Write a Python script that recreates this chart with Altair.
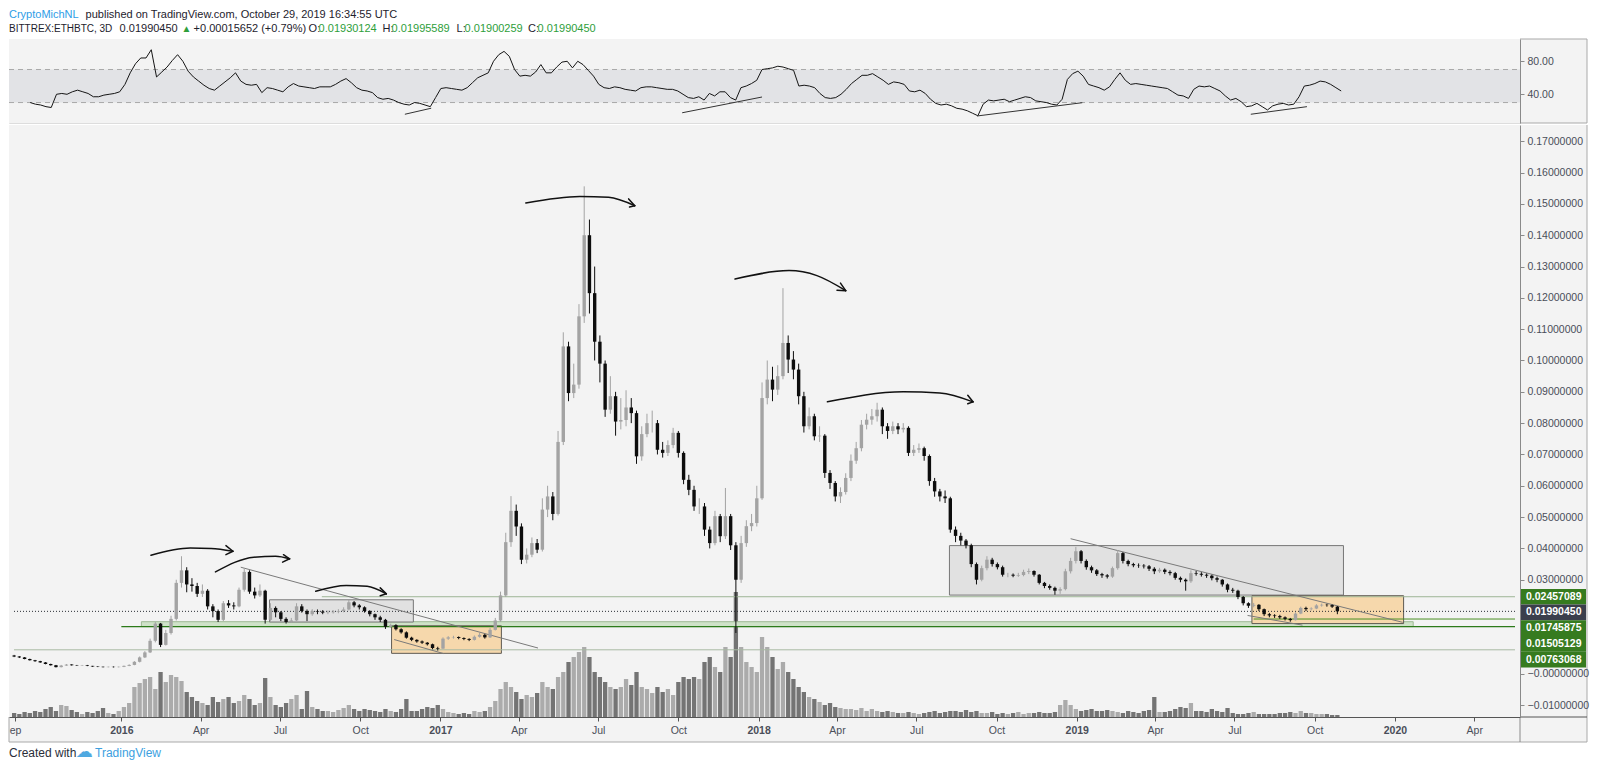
import altair as alt
import pandas as pd

# ======================= DATA =======================
BAR_START = "2015-08-31"      # first (6-day) candle
BAR_DAYS = 6
FIRST_OPEN = 0.0058

close = [
    0.0055, 0.0052, 0.0047, 0.0043, 0.0040, 0.0036, 0.0031, 0.0027, 0.0021, 0.0026,
    0.0029, 0.0027, 0.0026, 0.0027, 0.0025, 0.0023, 0.0022, 0.0021, 0.0022, 0.0021,
    0.0022, 0.0025, 0.0028, 0.0038, 0.0052, 0.0068, 0.0105, 0.0160, 0.0092, 0.0130,
    0.0175, 0.0290, 0.0330, 0.0285, 0.0280, 0.0255, 0.0265, 0.0215, 0.0200, 0.0172,
    0.0225, 0.0218, 0.0215, 0.0268, 0.0325, 0.0262, 0.0250, 0.0265, 0.0172, 0.0210,
    0.0196, 0.0175, 0.0165, 0.0170, 0.0215, 0.0200, 0.0190, 0.0200, 0.0198, 0.0195,
    0.0196, 0.0198, 0.0200, 0.0205, 0.0228, 0.0218, 0.0212, 0.0200, 0.0190, 0.0180,
    0.0172, 0.0150, 0.0155, 0.0142, 0.0132, 0.0115, 0.0108, 0.0103, 0.0099, 0.0094,
    0.0082, 0.0080, 0.0112, 0.0116, 0.0117, 0.0114, 0.0111, 0.0108, 0.0118, 0.0124,
    0.0116, 0.0140, 0.0170, 0.0250, 0.0420, 0.0520, 0.0470, 0.0364, 0.0380, 0.0417,
    0.0396, 0.0524, 0.0566, 0.0510, 0.0740, 0.1045, 0.0896, 0.0923, 0.1141, 0.1400,
    0.1215, 0.1060, 0.0990, 0.0843, 0.0886, 0.0805, 0.0810, 0.0850, 0.0832, 0.0694,
    0.0765, 0.0800, 0.0800, 0.0715, 0.0705, 0.0730, 0.0769, 0.0705, 0.0619, 0.0587,
    0.0534, 0.0534, 0.0460, 0.0417, 0.0503, 0.0439, 0.0503, 0.0410, 0.0300, 0.0417,
    0.0471, 0.0481, 0.0560, 0.0880, 0.0939, 0.0907, 0.0950, 0.1056, 0.1003, 0.0971,
    0.0886, 0.0790, 0.0822, 0.0758, 0.0760, 0.0641, 0.0609, 0.0566, 0.0580, 0.0625,
    0.0680, 0.0720, 0.0795, 0.0811, 0.0822, 0.0843, 0.0790, 0.0775, 0.0790, 0.0780,
    0.0785, 0.0705, 0.0715, 0.0720, 0.0695, 0.0615, 0.0582, 0.0566, 0.0560, 0.0460,
    0.0440, 0.0425, 0.0410, 0.0350, 0.0300, 0.0337, 0.0364, 0.0350, 0.0340, 0.0316,
    0.0316, 0.0313, 0.0315, 0.0325, 0.0328, 0.0316, 0.0290, 0.0280, 0.0274, 0.0265,
    0.0270, 0.0327, 0.0360, 0.0391, 0.0360, 0.0340, 0.0330, 0.0318, 0.0314, 0.0310,
    0.0337, 0.0385, 0.0360, 0.0350, 0.0346, 0.0345, 0.0343, 0.0335, 0.0327, 0.0332,
    0.0325, 0.0321, 0.0306, 0.0300, 0.0295, 0.0321, 0.0319, 0.0316, 0.0313, 0.0305,
    0.0300, 0.0285, 0.0268, 0.0265, 0.0245, 0.0225, 0.0217, 0.0220, 0.0206, 0.0190,
    0.0186, 0.0184, 0.0180, 0.0175, 0.0171, 0.0192, 0.0210, 0.0206, 0.0208, 0.0218,
    0.0220, 0.0219, 0.0214, 0.0199045,
]

high = [
    0.0060, 0.0056, 0.0053, 0.0048, 0.0044, 0.0041, 0.0037, 0.0032, 0.0028, 0.0028,
    0.0031, 0.0030, 0.0028, 0.0028, 0.0028, 0.0025, 0.0024, 0.0023, 0.0023, 0.0023,
    0.0023, 0.0026, 0.0030, 0.0040, 0.0055, 0.0072, 0.0112, 0.0165, 0.0162, 0.0140,
    0.0185, 0.0300, 0.0375, 0.0340, 0.0305, 0.0290, 0.0285, 0.0270, 0.0222, 0.0205,
    0.0232, 0.0235, 0.0228, 0.0275, 0.0337, 0.0330, 0.0275, 0.0285, 0.0268, 0.0225,
    0.0215, 0.0200, 0.0180, 0.0178, 0.0225, 0.0222, 0.0205, 0.0206, 0.0205, 0.0203,
    0.0202, 0.0203, 0.0206, 0.0212, 0.0236, 0.0232, 0.0222, 0.0215, 0.0203, 0.0192,
    0.0185, 0.0175, 0.0160, 0.0158, 0.0145, 0.0135, 0.0118, 0.0110, 0.0106, 0.0101,
    0.0096, 0.0086, 0.0116, 0.0120, 0.0121, 0.0119, 0.0116, 0.0113, 0.0122, 0.0130,
    0.0127, 0.0146, 0.0178, 0.0262, 0.0450, 0.0567, 0.0540, 0.0480, 0.0400, 0.0435,
    0.0430, 0.0560, 0.0600, 0.0580, 0.0775, 0.1090, 0.1060, 0.0990, 0.1180, 0.1556,
    0.1450, 0.1300, 0.1080, 0.1000, 0.0950, 0.0900, 0.0880, 0.0905, 0.0880, 0.0840,
    0.0790, 0.0830, 0.0840, 0.0810, 0.0740, 0.0745, 0.0785, 0.0775, 0.0710, 0.0635,
    0.0600, 0.0560, 0.0545, 0.0470, 0.0520, 0.0510, 0.0593, 0.0510, 0.0420, 0.0440,
    0.0490, 0.0510, 0.0600, 0.0930, 0.1000, 0.0980, 0.0985, 0.1231, 0.1080, 0.1030,
    0.0990, 0.0900, 0.0850, 0.0830, 0.0790, 0.0765, 0.0650, 0.0615, 0.0595, 0.0640,
    0.0700, 0.0740, 0.0810, 0.0830, 0.0845, 0.0865, 0.0850, 0.0800, 0.0805, 0.0800,
    0.0800, 0.0790, 0.0730, 0.0735, 0.0725, 0.0700, 0.0625, 0.0590, 0.0585, 0.0565,
    0.0470, 0.0450, 0.0430, 0.0415, 0.0355, 0.0345, 0.0375, 0.0370, 0.0355, 0.0345,
    0.0322, 0.0320, 0.0322, 0.0332, 0.0336, 0.0330, 0.0318, 0.0293, 0.0285, 0.0278,
    0.0276, 0.0335, 0.0370, 0.0405, 0.0395, 0.0365, 0.0345, 0.0334, 0.0322, 0.0318,
    0.0342, 0.0395, 0.0388, 0.0364, 0.0354, 0.0352, 0.0350, 0.0347, 0.0340, 0.0338,
    0.0336, 0.0330, 0.0325, 0.0310, 0.0304, 0.0330, 0.0328, 0.0324, 0.0320, 0.0316,
    0.0310, 0.0302, 0.0288, 0.0274, 0.0268, 0.0248, 0.0228, 0.0226, 0.0222, 0.0208,
    0.0194, 0.0190, 0.0188, 0.0183, 0.0178, 0.0196, 0.0214, 0.0214, 0.0212, 0.0222,
    0.0224, 0.0223, 0.0221, 0.0216,
]

low = [
    0.0053, 0.0050, 0.0046, 0.0042, 0.0038, 0.0035, 0.0030, 0.0026, 0.0020, 0.0020,
    0.0025, 0.0026, 0.0025, 0.0025, 0.0024, 0.0022, 0.0021, 0.0020, 0.0020, 0.0020,
    0.0020, 0.0021, 0.0024, 0.0027, 0.0036, 0.0050, 0.0066, 0.0100, 0.0085, 0.0090,
    0.0125, 0.0170, 0.0275, 0.0260, 0.0262, 0.0245, 0.0245, 0.0205, 0.0180, 0.0165,
    0.0168, 0.0210, 0.0205, 0.0212, 0.0262, 0.0255, 0.0240, 0.0245, 0.0160, 0.0165,
    0.0180, 0.0168, 0.0160, 0.0162, 0.0168, 0.0195, 0.0168, 0.0185, 0.0190, 0.0190,
    0.0190, 0.0192, 0.0193, 0.0196, 0.0202, 0.0212, 0.0205, 0.0195, 0.0183, 0.0172,
    0.0165, 0.0143, 0.0147, 0.0138, 0.0128, 0.0112, 0.0104, 0.0099, 0.0095, 0.0090,
    0.0078, 0.0074, 0.0079, 0.0108, 0.0112, 0.0110, 0.0107, 0.0104, 0.0106, 0.0115,
    0.0112, 0.0114, 0.0138, 0.0166, 0.0245, 0.0405, 0.0440, 0.0350, 0.0352, 0.0372,
    0.0385, 0.0390, 0.0500, 0.0490, 0.0505, 0.0730, 0.0870, 0.0880, 0.0910, 0.1120,
    0.1150, 0.1000, 0.0930, 0.0820, 0.0830, 0.0760, 0.0780, 0.0790, 0.0800, 0.0670,
    0.0680, 0.0755, 0.0770, 0.0700, 0.0690, 0.0695, 0.0720, 0.0690, 0.0605, 0.0570,
    0.0520, 0.0510, 0.0440, 0.0400, 0.0410, 0.0420, 0.0430, 0.0395, 0.0130, 0.0290,
    0.0405, 0.0455, 0.0470, 0.0555, 0.0860, 0.0870, 0.0890, 0.0940, 0.0960, 0.0940,
    0.0860, 0.0770, 0.0780, 0.0745, 0.0740, 0.0625, 0.0590, 0.0550, 0.0545, 0.0572,
    0.0615, 0.0670, 0.0710, 0.0780, 0.0795, 0.0805, 0.0765, 0.0750, 0.0765, 0.0765,
    0.0770, 0.0695, 0.0695, 0.0705, 0.0680, 0.0600, 0.0565, 0.0550, 0.0545, 0.0450,
    0.0420, 0.0410, 0.0400, 0.0340, 0.0285, 0.0295, 0.0330, 0.0342, 0.0333, 0.0310,
    0.0308, 0.0308, 0.0309, 0.0311, 0.0318, 0.0310, 0.0285, 0.0273, 0.0268, 0.0252,
    0.0255, 0.0266, 0.0320, 0.0352, 0.0352, 0.0332, 0.0322, 0.0312, 0.0306, 0.0304,
    0.0306, 0.0332, 0.0352, 0.0343, 0.0340, 0.0338, 0.0336, 0.0328, 0.0318, 0.0322,
    0.0318, 0.0314, 0.0300, 0.0292, 0.0265, 0.0290, 0.0313, 0.0310, 0.0306, 0.0298,
    0.0292, 0.0278, 0.0260, 0.0258, 0.0238, 0.0218, 0.0210, 0.0212, 0.0200, 0.0184,
    0.0180, 0.0178, 0.0175, 0.0170, 0.0166, 0.0170, 0.0190, 0.0200, 0.0202, 0.0206,
    0.0214, 0.0214, 0.0210, 0.0190,
]

volume = [
    4, 3, 5, 4, 6, 5, 8, 10, 6, 12,
    11, 7, 5, 3, 5, 4, 6, 9, 4, 3,
    6, 10, 14, 30, 34, 38, 40, 28, 45, 35,
    42, 40, 36, 25, 20, 16, 14, 12, 20, 15,
    18, 20, 14, 16, 22, 18, 12, 14, 39, 20,
    12, 10, 14, 18, 22, 8, 26, 10, 8, 6,
    6, 5, 7, 9, 12, 8, 6, 8, 7, 6,
    5, 8, 6, 5, 8, 18, 6, 6, 8, 10,
    9, 12, 8, 5, 4, 3, 4, 3, 6, 5,
    6, 10, 16, 28, 35, 30, 25, 18, 22, 20,
    24, 35, 30, 28, 40, 45, 55, 60, 65, 70,
    60, 45, 40, 35, 30, 28, 30, 38, 32, 45,
    30, 28, 24, 30, 25, 28, 22, 35, 40, 38,
    40, 38, 55, 60, 50, 45, 70, 60, 125, 70,
    55, 50, 45, 80, 70, 60, 48, 55, 45, 38,
    30, 25, 20, 18, 15, 12, 14, 10, 9, 8,
    8, 7, 9, 6, 8, 6, 5, 6, 5, 4,
    4, 5, 4, 3, 4, 5, 6, 4, 5, 6,
    6, 5, 7, 5, 6, 4, 4, 5, 3, 4,
    3, 4, 5, 3, 4, 4, 5, 4, 4, 5,
    12, 17, 12, 8, 6, 7, 8, 6, 6, 7,
    6, 5, 4, 6, 5, 4, 6, 7, 20, 5,
    5, 6, 8, 10, 9, 14, 6, 6, 5, 8,
    6, 5, 9, 4, 3, 3, 4, 5, 3, 3,
    3, 3, 4, 4, 5, 4, 6, 4, 4, 3,
    3, 3, 2, 2,
]

RSI_FIRST_BAR = 4
rsi = [
    30, 28, 27, 25, 24, 40, 41, 40, 43, 45,
    43, 41, 37, 37, 39, 40, 41, 43, 52, 66,
    77, 84, 84, 94, 61, 67, 73, 81, 88, 80,
    68, 61, 56, 51, 47, 45, 50, 55, 60, 66,
    56, 52, 51, 52, 42, 48, 47, 45, 43, 49,
    53, 50, 49, 48, 47, 49, 49, 49, 52, 56,
    59, 54, 48, 45, 44, 42, 36, 34, 35, 33,
    30, 28, 27, 30, 29, 27, 25, 36, 47, 48,
    47, 46, 45, 48, 54, 60, 63, 66, 80, 88,
    92, 86, 70, 62, 63, 62, 67, 76, 66, 66,
    73, 79, 80, 72, 80, 76, 69, 62, 52, 48,
    47, 49, 48, 46, 45, 44, 48, 49, 49, 48,
    47, 46, 46, 44, 40, 36, 35, 37, 33, 41,
    38, 43, 43, 36, 33, 48, 50, 53, 57, 70,
    71, 72, 74, 73, 71, 69, 50, 51, 50, 48,
    41, 36, 35, 36, 40, 46, 53, 58, 63, 63,
    65, 61, 57, 52, 55, 54, 52, 44, 43, 45,
    41, 34, 29, 27, 28, 26, 23, 22, 20, 17,
    14, 28, 33, 32, 33, 34, 31, 33, 35, 37,
    36, 32, 31, 30, 28, 27, 34, 58, 65, 68,
    62, 52, 50, 48, 45, 49, 58, 66, 57, 52,
    53, 52, 51, 50, 49, 48, 47, 43, 39, 38,
    35, 46, 50, 49, 50, 47, 44, 38, 33, 35,
    31, 25, 26, 29, 25, 21, 26, 28, 29, 27,
    28, 37, 50, 51, 53, 56, 55, 52, 48, 44,
]
RSI_BAND = [30, 70]

# horizontal price levels (drawn lines + right-hand labels)
level_values = [0.02457089, 0.01990450, 0.01745875, 0.01505129, 0.00763068]
level_starts = ["2016-08-18", "2015-08-30T20:43", "2019-07-23", "2016-01-01", "2015-08-30T20:43"]

# rectangles drawn on the chart
grey_box_start = ["2016-06-19", "2018-08-08"]
grey_box_end = ["2016-12-01", "2019-11-03"]
grey_box_lo = [0.0165, 0.0251]
grey_box_hi = [0.0236, 0.0409]
orange_box_start = ["2016-11-06", "2019-07-21"]
orange_box_end = ["2017-03-12", "2020-01-11"]
orange_box_lo = [0.0065, 0.0160]
orange_box_hi = [0.0153, 0.0249]
zone_start = ["2016-01-24"]
zone_end = ["2020-01-22"]
zone_lo = [0.01505]
zone_hi = [0.0166]

# trend lines on price
trend_start = ["2016-05-17", "2018-12-25", "2016-11-09", "2019-07-16"]
trend_p1 = [0.0340, 0.0431, 0.0109, 0.0186]
trend_end = ["2017-04-23", "2020-01-10", "2017-01-05", "2019-09-17"]
trend_p2 = [0.0082, 0.0164, 0.0064, 0.0155]

# hand-drawn arcs (4 points each)
arc_id = [1] * 4 + [2] * 4 + [3] * 4 + [4] * 4 + [5] * 4 + [6] * 4
arc_date = [
    "2016-02-04", "2016-03-20", "2016-04-13", "2016-05-08",
    "2016-04-18", "2016-06-01", "2016-06-26", "2016-07-12",
    "2016-08-11", "2016-09-15", "2016-10-09", "2016-10-31",
    "2017-04-09", "2017-06-10", "2017-07-13", "2017-08-12",
    "2017-12-05", "2018-02-05", "2018-03-09", "2018-04-11",
    "2018-03-21", "2018-06-16", "2018-07-28", "2018-09-04",
]
arc_price = [
    0.0378, 0.0401, 0.0400, 0.0391,
    0.0325, 0.0372, 0.0375, 0.0367,
    0.0263, 0.0282, 0.0279, 0.0255,
    0.1503, 0.1524, 0.1521, 0.1494,
    0.1260, 0.1287, 0.1271, 0.1223,
    0.0868, 0.0900, 0.0896, 0.0868,
]
head_from_date = ["2016-04-30", "2016-04-30", "2016-07-05", "2016-07-04", "2016-10-24", "2016-10-24",
                  "2017-08-05", "2017-08-06", "2018-04-05", "2018-04-01", "2018-08-29", "2018-08-29"]
head_from_price = [0.0409, 0.0380, 0.0380, 0.0356, 0.0274, 0.0249,
                   0.1516, 0.1490, 0.1247, 0.1224, 0.0889, 0.0862]
head_to_date = ["2016-05-08", "2016-05-08", "2016-07-12", "2016-07-12", "2016-10-31", "2016-10-31",
                "2017-08-12", "2017-08-12", "2018-04-11", "2018-04-11", "2018-09-04", "2018-09-04"]
head_to_price = [0.0391, 0.0391, 0.0367, 0.0367, 0.0255, 0.0255,
                 0.1494, 0.1494, 0.1223, 0.1223, 0.0868, 0.0868]

# RSI divergence lines
rsi_tl_start = ["2016-11-24", "2017-10-06", "2018-09-07", "2019-07-16"]
rsi_tl_v1 = [15.8, 17.6, 13.7, 15.8]
rsi_tl_end = ["2016-12-24", "2018-01-05", "2019-01-05", "2019-09-18"]
rsi_tl_v2 = [23.1, 36.7, 29.8, 25.0]

# header texts
header_line1 = ["CryptoMichNL", "published on TradingView.com, October 29, 2019 16:34:55 UTC"]
header_line2 = ["BITTREX:ETHBTC, 3D", "0.01990450", "\u25b2", "+0.00015652 (+0.79%)",
                "O:", "0.01930124", "H:", "0.01995589", "L:", "0.01900259", "C:", "0.01990450"]

# ======================= LAYOUT / STYLE =======================
FONT = "Liberation Sans"
W, H, HR = 1511, 592, 84
R = 1578            # right frame (inside svg)
B = 617             # bottom frame, relative to main panel
BG = "#f3f3f3"
FRAME = "#a9a9a9"
UP, DOWN = "#a3a3a3", "#0d0d0d"
VUP, VDOWN = "#ababab", "#747474"
GREEN_LBL, DARK_LBL = "#367b1f", "#3b3f4c"
TXT = "#1e222d"
GREEN_TXT = "#2e9e3a"

YMIN, YMAX = -0.013825, 0.17519
X1 = "2020-05-17T19:00:00"
xscale = alt.Scale(domain=[alt.DateTime(year=2015, month=8, date=30, hours=20, minutes=43),
                           alt.DateTime(year=2020, month=5, date=17, hours=19)], nice=False)
yscale = alt.Scale(domain=[YMIN, YMAX], nice=False, zero=False)
rscale = alt.Scale(domain=[5.2, 107.0], nice=False, zero=False)

DUMMY = pd.DataFrame({"k": [0]})


def T(vals):
    return pd.to_datetime(pd.Series(vals), format="ISO8601")


tick_values = [alt.DateTime(year=2015, month=9, date=1)]
for yy in range(2016, 2020):
    for mm in (1, 4, 7, 10):
        tick_values.append(alt.DateTime(year=yy, month=mm, date=1))
tick_values += [alt.DateTime(year=2020, month=1, date=1), alt.DateTime(year=2020, month=4, date=1)]

xaxis = alt.Axis(
    values=tick_values, title=None, grid=False, zindex=1,
    labelExpr="month(datum.value) == 0 ? timeFormat(datum.value, '%Y') : "
              "(month(datum.value) == 8 ? 'ep' : timeFormat(datum.value, '%b'))",
    labelFontWeight={"condition": {"test": "month(datum.value) == 0", "value": "bold"}, "value": "normal"},
    labelFlush=3, labelFontSize=10.5, labelColor="#4a4e59", labelPadding=4.5, labelFont=FONT,
    tickSize=4, tickColor="#555555", domainColor="#555555", labelOverlap=False,
)
price_ticks = [-0.01, 0.0] + [round(0.03 + 0.01 * k, 2) for k in range(15)]
yaxis = alt.Axis(
    orient="right", values=price_ticks, title=None, grid=False, zindex=1,
    labelExpr="datum.value == 0 ? '\u22120.00000000' : format(datum.value, '.8f')",
    labelFontSize=10.5, labelColor="#4a4e59", labelPadding=3, labelFont=FONT,
    tickSize=4, tickColor="#8a8a8a", domainColor="#8a8a8a", labelOverlap=False,
)
raxis = alt.Axis(
    orient="right", values=[40, 80], format=".2f", title=None, grid=False, zindex=1,
    labelFontSize=10.5, labelColor="#4a4e59", labelPadding=3, labelFont=FONT,
    tickSize=4, tickColor="#8a8a8a", domainColor="#8a8a8a", labelOverlap=False,
)


# every layer of a panel carries the same axis definition, so they merge cleanly
def X(field):
    return alt.X(field, scale=xscale, title=None, axis=xaxis)


def XR(field):
    return alt.X(field, scale=xscale, title=None, axis=None)


def Y(field):
    return alt.Y(field, scale=yscale, title=None, axis=yaxis)


def YR(field):
    return alt.Y(field, scale=rscale, title=None, axis=raxis)


# ---------- frames ----------
n = len(close)
dates = pd.date_range(BAR_START, periods=n, freq=f"{BAR_DAYS}D")
cand = pd.DataFrame({
    "date": dates,
    "open": [FIRST_OPEN] + close[:-1],
    "close": close, "high": high, "low": low, "volume": volume,
})
rsi_df = pd.DataFrame({"date": dates[RSI_FIRST_BAR:RSI_FIRST_BAR + len(rsi)], "rsi": rsi})


def px_rule(x1, x2, y1, y2, color, w=1.0):
    return alt.Chart(DUMMY).mark_rule(color=color, strokeWidth=w).encode(
        x=alt.value(x1), x2=alt.value(x2), y=alt.value(y1), y2=alt.value(y2))


def px_rect(x1, x2, y1, y2, color):
    return alt.Chart(DUMMY).mark_rect(color=color, opacity=1).encode(
        x=alt.value(x1), x2=alt.value(x2), y=alt.value(y1), y2=alt.value(y2))


def px_text(txt, x, y, color, size=11, weight="normal", font=FONT):
    return alt.Chart(DUMMY).mark_text(text=txt, align="left", baseline="middle", fontSize=size,
                                      fontWeight=weight, color=color, font=font).encode(
        x=alt.value(x), y=alt.value(y))


up_test = "datum.close >= datum.open"

# ---------- main panel ----------
vol_layer = alt.Chart(cand).mark_bar(width=4.3).encode(
    x=X("date:T"),
    y=alt.Y("volume:Q", scale=alt.Scale(domain=[0, H], nice=False), axis=None, title=None),
    color=alt.condition(up_test, alt.value(VUP), alt.value(VDOWN)),
)

layers = []


def box_layer(starts, ends, los, his, fill, stroke):
    df = pd.DataFrame({"s": T(starts), "e": T(ends), "lo": los, "hi": his})
    return alt.Chart(df).mark_rect(fill=fill, stroke=stroke, strokeWidth=1).encode(
        x=X("s:T"), x2="e:T", y=Y("lo:Q"), y2="hi:Q")


layers.append(box_layer(zone_start, zone_end, zone_lo, zone_hi, "#cfe2c8", "#9db894"))
layers.append(box_layer(grey_box_start, grey_box_end, grey_box_lo, grey_box_hi, "#e1e1e1", "#777777"))
layers.append(box_layer(orange_box_start, orange_box_end, orange_box_lo, orange_box_hi, "#f6d8ac", "#5e5a52"))

level_styles = [
    dict(color="#9db596", strokeWidth=1),
    dict(color="#2b2f36", strokeWidth=1, strokeDash=[1, 2]),
    dict(color="#4a8f22", strokeWidth=1),
    dict(color="#2c7a1a", strokeWidth=1.3),
    dict(color="#a9b9a3", strokeWidth=1),
]
for v, s, st in zip(level_values, level_starts, level_styles):
    df = pd.DataFrame({"s": T([s]), "e": T([X1]), "lvl": [v]})
    layers.append(alt.Chart(df).mark_rule(**st).encode(x=X("s:T"), x2="e:T", y=Y("lvl:Q")))

trend_df = pd.DataFrame({"s": T(trend_start), "e": T(trend_end), "p1": trend_p1, "p2": trend_p2})
layers.append(alt.Chart(trend_df).mark_rule(color="#7a7a7a", strokeWidth=1).encode(
    x=X("s:T"), x2="e:T", y=Y("p1:Q"), y2="p2:Q"))

layers.append(alt.Chart(cand).mark_rule(strokeWidth=1).encode(
    x=X("date:T"), y=Y("low:Q"), y2="high:Q",
    color=alt.condition(up_test, alt.value(UP), alt.value(DOWN)),
))
layers.append(alt.Chart(cand).mark_bar(width=3.4).encode(
    x=X("date:T"), y=Y("open:Q"), y2="close:Q",
    color=alt.condition(up_test, alt.value(UP), alt.value(DOWN)),
))

arc_df = pd.DataFrame({"id": arc_id, "d": T(arc_date), "p": arc_price, "o": list(range(len(arc_id)))})
layers.append(alt.Chart(arc_df).mark_line(color="#111111", strokeWidth=1.5, interpolate="monotone",
                                          strokeCap="round").encode(
    x=X("d:T"), y=Y("p:Q"), detail="id:N", order="o:Q"))
head_df = pd.DataFrame({"s": T(head_from_date), "e": T(head_to_date), "p1": head_from_price, "p2": head_to_price})
layers.append(alt.Chart(head_df).mark_rule(color="#111111", strokeWidth=1.5, strokeCap="round").encode(
    x=X("s:T"), x2="e:T", y=Y("p1:Q"), y2="p2:Q"))

# right-hand price labels, stacked like TradingView does
LBL_H = 15.7


def ypx(p):
    return (YMAX - p) / (YMAX - YMIN) * H


prev = None
for k, v in enumerate(level_values):
    natural = ypx(v)
    center = natural if prev is None else max(natural, prev + LBL_H)
    prev = center
    off = center - natural
    df = pd.DataFrame({"lvl": [v], "txt": [f"{v:.8f}"]})
    fill = DARK_LBL if k == 1 else GREEN_LBL
    layers.append(alt.Chart(df).mark_rect(color=fill, yOffset=off - LBL_H / 2, y2Offset=off + LBL_H / 2).encode(
        x=alt.value(W + 1), x2=alt.value(R - 1), y=Y("lvl:Q"), y2="lvl:Q"))
    layers.append(alt.Chart(df).mark_text(align="left", baseline="middle", fontSize=10.5, fontWeight="bold",
                                          color="white", font=FONT, yOffset=off).encode(
        x=alt.value(W + 6), y=Y("lvl:Q"), text="txt:N"))

# frame pieces
layers.append(px_rule(R, R, 0, B, FRAME))
layers.append(px_rule(0, R, B, B, FRAME))
layers.append(px_rule(0, 0, H, B, FRAME))
layers.append(px_rule(W, R, H, H, "#555555"))
layers.append(px_rule(W, W, H, B, "#8a8a8a"))

# footer
layers.append(px_text("Created with", 0, 628, "#2a2e39", size=12))
layers.append(px_text("\u2601", 67, 627, "#4fa9e1", size=17, font="DejaVu Sans"))
layers.append(px_text("TradingView", 86, 628, "#3d9fdf", size=12))

price_group = alt.layer(*layers)
bg_main = alt.layer(px_rect(0, R, 0, B, BG))
main = alt.layer(bg_main, vol_layer, price_group).resolve_scale(y="independent").properties(width=W, height=H)

# ---------- RSI panel ----------
rl = []
rl.append(px_rect(0, R, 0, HR, BG))
band_df = pd.DataFrame({"lo": [RSI_BAND[0]], "hi": [RSI_BAND[1]]})
rl.append(alt.Chart(band_df).mark_rect(color="#e2e3e6").encode(
    x=alt.value(0), x2=alt.value(W), y=YR("lo:Q"), y2="hi:Q"))
rl.append(alt.Chart(pd.DataFrame({"v": RSI_BAND})).mark_rule(color="#a9a9a9", strokeDash=[5, 4]).encode(
    x=alt.value(0), x2=alt.value(W), y=YR("v:Q")))
rl.append(alt.Chart(rsi_df).mark_line(color="#151515", strokeWidth=1).encode(
    x=XR("date:T"), y=YR("rsi:Q")))
rtl_df = pd.DataFrame({"s": T(rsi_tl_start), "e": T(rsi_tl_end), "v1": rsi_tl_v1, "v2": rsi_tl_v2})
rl.append(alt.Chart(rtl_df).mark_rule(color="#333333", strokeWidth=1).encode(
    x=XR("s:T"), x2="e:T", y=YR("v1:Q"), y2="v2:Q"))
rl.append(px_rule(W, R, 0, 0, FRAME))
rl.append(px_rule(W, R, HR, HR, FRAME))
rl.append(px_rule(R, R, 0, HR, FRAME))

# header
h1_x = [0, 76.6]
h1_c = ["#2e9de6", TXT]
for t, x, c in zip(header_line1, h1_x, h1_c):
    rl.append(px_text(t, x, -24, c))
h2_x = [0, 110.6, 172.6, 184.6, 299.6, 309.6, 373.6, 382.6, 447.6, 455.6, 519, 528.6]
h2_c = [TXT, TXT, GREEN_TXT, TXT, TXT, GREEN_TXT, TXT, GREEN_TXT, TXT, GREEN_TXT, TXT, GREEN_TXT]
h2_s = [10, 11, 10, 11, 11, 11, 11, 11, 11, 11, 11, 11]
for t, x, c, s in zip(header_line2, h2_x, h2_c, h2_s):
    rl.append(px_text(t, x, -10, c, size=s))

rsi_chart = alt.layer(*rl).properties(width=W, height=HR)

chart = alt.vconcat(rsi_chart, main, spacing=0).properties(padding=0, background="white").configure_view(
    fill=BG, stroke=FRAME, strokeWidth=1).configure(font=FONT)

chart.save("out.html", embed_options={"renderer": "svg", "actions": False})
